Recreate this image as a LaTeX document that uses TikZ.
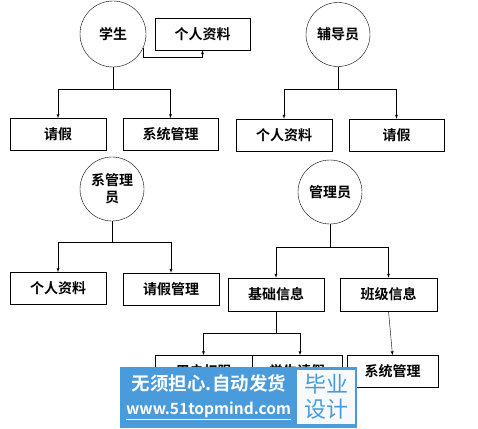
\documentclass[tikz,border=0pt]{standalone}
\usepackage{fontspec}
\usepackage{xcolor}
\usepackage{tikz}
\newfontfamily\cjk{Noto Sans CJK SC}[BoldFont={Noto Sans CJK SC Bold}]
\definecolor{markblue}{RGB}{74,155,219}
\definecolor{panelbg}{RGB}{246,250,253}

\begin{document}
\begin{tikzpicture}[x=1pt, y=-1pt, >=latex,
    role/.style={draw, circle, minimum size=64pt, inner sep=1pt, align=center, font=\cjk\bfseries\fontsize{14}{17}\selectfont},
    func/.style={draw, rectangle, minimum width=96pt, minimum height=32pt, inner sep=1pt, font=\cjk\bfseries\fontsize{14}{17}\selectfont}]
    \useasboundingbox (0,0) rectangle (478,428);

    % roles
    \node[role, minimum size=66pt] (stu) at (113,34) {学生};
    \node[role] (fdy) at (338,34.5) {辅导员};
    \node[role] (xgl) at (112,189) {系管理\\员};
    \node[role] (gly) at (330,192) {管理员};

    % student
    \node[func, minimum width=95pt] (stuzl) at (202.5,34) {个人资料};
    \node[func] (stuqj) at (58,134.5) {请假};
    \node[func, minimum width=95pt] (stuxt) at (170.5,134.5) {系统管理};

    % counsellor
    \node[func] (fdyzl) at (284,135) {个人资料};
    \node[func, minimum width=95pt] (fdyqj) at (396.5,135) {请假};

    % department admin
    \node[func] (xglzl) at (58,288.5) {个人资料};
    \node[func] (xglqj) at (171,289) {请假管理};

    % admin
    \node[func, minimum height=33pt] (jcxx) at (276,294.5) {基础信息};
    \node[func, minimum height=33pt, minimum width=97pt] (bjxx) at (388.5,294.5) {班级信息};
    \node[func, minimum width=97pt] (yhqx) at (203.5,371.5) {用户权限};
    \node[func, minimum width=90pt] (xsqj) at (297,371.5) {学生请假};
    \node[func, minimum width=91pt] (glxt) at (392.5,371.5) {系统管理};

    \draw[->] (stu.-25) -- ++(0,9) -| (stuzl.south);
    \draw[->] (stu.south) -- ++(0,22) -| (stuqj.north);
    \draw[->] (stu.south) -- ++(0,22) -| (stuxt.north);
    \draw[->] (fdy.south) -- ++(0,22) -| (fdyzl.north);
    \draw[->] (fdy.south) -- ++(0,22) -| (fdyqj.north);
    \draw[->] (xgl.south) -- ++(0,21) -| (xglzl.north);
    \draw[->] (xgl.south) -- ++(0,21) -| (xglqj.north);
    \draw[->] (gly.south) -- ++(0,23) -| (jcxx.north);
    \draw[->] (gly.south) -- ++(0,23) -| (bjxx.north);
    \draw[->] (jcxx.south) -- ++(0,22) -| (yhqx.north);
    \draw[->] (jcxx.south) -- ++(0,22) -| ([xshift=3pt]xsqj.north);
    \draw[->] (bjxx.south) -- (glxt.north);

    % watermark
    \node[fill=markblue, minimum width=237pt, minimum height=61pt, inner sep=0pt] (mark) at (238.5,397.5) {};
    \node[fill=panelbg, minimum width=58pt, minimum height=54pt, inner sep=0pt, align=center,
        text=markblue, font=\cjk\fontsize{22}{25}\selectfont] (panel) at (326,397) {毕业\\设计};
    \node[text=white, font=\cjk\bfseries\fontsize{18.5}{20}\selectfont, inner sep=0pt] (slogan) at (209,383) {无须担心.自动发货};
    \node[text=white, font=\cjk\bfseries\fontsize{15.5}{18}\selectfont, inner sep=0pt] (site) at (208.5,411) {\underline{www.51topmind.com}};
\end{tikzpicture}
\end{document}
